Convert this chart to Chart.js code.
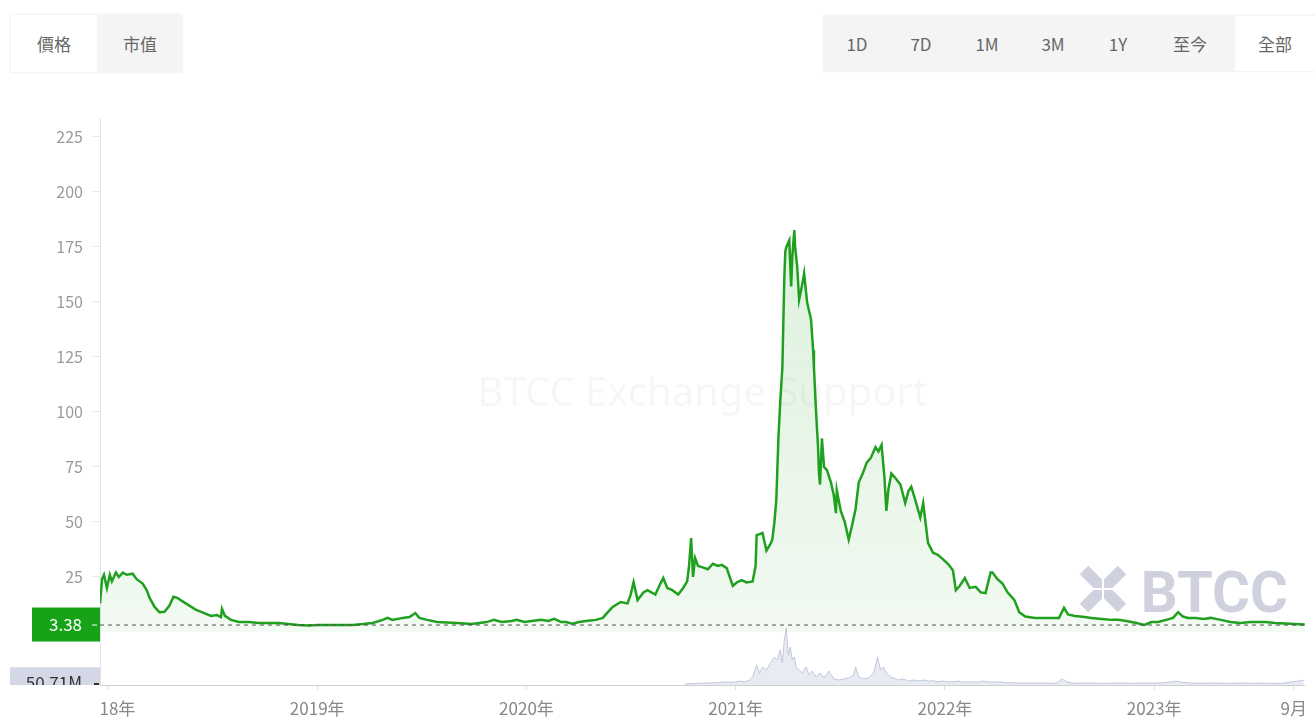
<!DOCTYPE html>
<html>
<head>
<meta charset="utf-8">
<script src="https://cdn.jsdelivr.net/npm/chart.js@4.4.0/dist/chart.umd.min.js"></script>
<style>
  html, body { margin: 0; padding: 0; background: #fff; }
  body { width: 1315px; height: 720px; overflow: hidden; position: relative;
         font-family: "Noto Sans CJK TC", "Noto Sans", sans-serif; color: #666; }
  .group { position: absolute; background: #f4f4f4; border-radius: 3px;
           box-shadow: 0 0 2px rgba(0,0,0,0.06); }
  .on { position: absolute; background: #fff; }
  .btn { position: absolute; width: 80px; text-align: center; font-size: 17px; }
  #wrap { position: absolute; left: 0; top: 90px; width: 1315px; height: 630px; }
</style>
</head>
<body>
<div class="group" style="left:10px;top:14px;width:173px;height:59px"></div>
<div class="on" style="left:11px;top:15px;width:86px;height:57px"></div>
<span class="btn" style="left:14px;top:31px">價格</span>
<span class="btn" style="left:100px;top:31px">市值</span>

<div class="group" style="left:823px;top:15px;width:520px;height:57px"></div>
<div class="on" style="left:1235px;top:16px;width:90px;height:55px"></div>
<span class="btn" style="left:817px;top:31px">1D</span>
<span class="btn" style="left:881px;top:31px">7D</span>
<span class="btn" style="left:947px;top:31px">1M</span>
<span class="btn" style="left:1013px;top:31px">3M</span>
<span class="btn" style="left:1078px;top:31px">1Y</span>
<span class="btn" style="left:1150px;top:31px">至今</span>
<span class="btn" style="left:1235px;top:31px">全部</span>

<div id="wrap"><canvas id="graph"></canvas></div>

<script>
// price line, x in fractional years
const priceDates = [
  2017.962, 2017.972, 2017.981, 2017.995, 2018.009, 2018.019, 2018.038, 2018.052, 2018.071, 2018.090,
  2018.118, 2018.137, 2018.166, 2018.185, 2018.199, 2018.223, 2018.246, 2018.270, 2018.294, 2018.313,
  2018.332, 2018.355, 2018.389, 2018.422, 2018.460, 2018.493, 2018.521, 2018.540, 2018.545, 2018.559,
  2018.588, 2018.626, 2018.673, 2018.720, 2018.768, 2018.815, 2018.863, 2018.910, 2018.957, 2019.005,
  2019.100, 2019.171, 2019.218, 2019.265, 2019.313, 2019.336, 2019.360, 2019.408, 2019.441, 2019.469,
  2019.488, 2019.526, 2019.573, 2019.668, 2019.739, 2019.810, 2019.844, 2019.882, 2019.929, 2019.953,
  2019.991, 2020.024, 2020.071, 2020.104, 2020.133, 2020.166, 2020.190, 2020.218, 2020.251, 2020.284,
  2020.332, 2020.365, 2020.389, 2020.412, 2020.450, 2020.483, 2020.498, 2020.512, 2020.531, 2020.559,
  2020.578, 2020.616, 2020.640, 2020.654, 2020.673, 2020.697, 2020.725, 2020.749, 2020.768, 2020.777,
  2020.787, 2020.796, 2020.806, 2020.820, 2020.839, 2020.867, 2020.891, 2020.915, 2020.934, 2020.957,
  2020.986, 2021.005, 2021.028, 2021.052, 2021.081, 2021.095, 2021.100, 2021.114, 2021.128, 2021.147,
  2021.166, 2021.175, 2021.185, 2021.194, 2021.204, 2021.213, 2021.223, 2021.232, 2021.237, 2021.242,
  2021.256, 2021.265, 2021.270, 2021.280, 2021.284, 2021.294, 2021.303, 2021.318, 2021.327, 2021.341,
  2021.360, 2021.370, 2021.374, 2021.384, 2021.393, 2021.398, 2021.403, 2021.412, 2021.422, 2021.436,
  2021.455, 2021.469, 2021.479, 2021.483, 2021.502, 2021.521, 2021.540, 2021.555, 2021.573, 2021.588,
  2021.607, 2021.626, 2021.645, 2021.668, 2021.682, 2021.697, 2021.711, 2021.720, 2021.730, 2021.744,
  2021.763, 2021.787, 2021.810, 2021.825, 2021.839, 2021.858, 2021.882, 2021.896, 2021.919, 2021.943,
  2021.967, 2021.991, 2022.014, 2022.038, 2022.052, 2022.071, 2022.095, 2022.118, 2022.147, 2022.171,
  2022.194, 2022.218, 2022.227, 2022.251, 2022.275, 2022.299, 2022.332, 2022.355, 2022.384, 2022.431,
  2022.488, 2022.545, 2022.569, 2022.588, 2022.621, 2022.668, 2022.701, 2022.749, 2022.796, 2022.829,
  2022.867, 2022.915, 2022.953, 2022.986, 2023.019, 2023.057, 2023.090, 2023.114, 2023.137, 2023.161,
  2023.199, 2023.237, 2023.270, 2023.318, 2023.365, 2023.412, 2023.460, 2023.493, 2023.531, 2023.578,
  2023.626, 2023.673, 2023.720
];
const priceValues = [
  13, 24, 26, 20, 26, 23, 27, 25, 27, 26,
  26.5, 24, 22, 19, 15.5, 11.4, 9, 9.2, 12, 16,
  15.5, 14, 12, 10, 8.6, 7.3, 7.7, 6.8, 10.5, 7.3,
  5.5, 4.5, 4.5, 4.1, 4.1, 4.1, 3.6, 3.2, 2.9, 3.2,
  3.2, 3.2, 3.6, 4.1, 5.5, 6.4, 5.5, 6.4, 6.8, 8.6,
  6.4, 5.5, 4.5, 4.1, 3.6, 4.5, 5.5, 4.5, 5.0, 5.5,
  4.5, 5.0, 5.5, 5.0, 6.0, 4.5, 4.5, 3.8, 4.5, 5.0,
  5.5, 6.4, 9, 11.4, 13.6, 13, 17, 22.7, 14.5, 18,
  19, 17, 22, 24.5, 20, 19, 17, 20, 23, 30,
  42.7, 25, 33.6, 30, 29.5, 28.5, 31, 30, 30.5, 29,
  21, 22.5, 23.6, 22.5, 23, 30, 44, 44.5, 45, 37,
  40, 42, 50, 60, 88, 105, 120, 160, 173, 175,
  178, 157, 170, 182.7, 175, 166, 151, 158, 163, 150,
  142, 128, 120, 100, 85, 72, 67, 88, 75, 73.6,
  68, 62, 54, 64.5, 55, 50, 42, 48, 56, 68,
  72, 77, 79, 84, 82, 85, 70, 55, 65, 72,
  70, 67, 58.6, 64, 66, 60, 52, 58.6, 40.5, 36,
  35, 33, 31, 28, 19, 21, 24.5, 20, 20.5, 18,
  17.7, 27, 27, 24, 22, 18, 14.5, 9, 7, 6.4,
  6.4, 6.4, 11, 8, 7.3, 6.8, 6.4, 5.9, 5.5, 5.5,
  5.0, 4.1, 3.2, 4.5, 4.5, 5.5, 6.4, 9, 7, 6.4,
  6.4, 5.9, 6.4, 5.5, 4.5, 4.1, 4.5, 4.5, 4.5, 4.1,
  3.8, 3.6, 3.38
];

// trading volume, millions
const volDates = [
  2020.758, 2020.806, 2020.853, 2020.900, 2020.948, 2020.995, 2021.019, 2021.043, 2021.066, 2021.081,
  2021.100, 2021.114, 2021.128, 2021.147, 2021.166, 2021.185, 2021.199, 2021.213, 2021.223, 2021.232,
  2021.242, 2021.251, 2021.261, 2021.270, 2021.280, 2021.289, 2021.303, 2021.318, 2021.336, 2021.351,
  2021.365, 2021.384, 2021.403, 2021.422, 2021.445, 2021.469, 2021.493, 2021.517, 2021.540, 2021.564,
  2021.573, 2021.588, 2021.611, 2021.635, 2021.659, 2021.678, 2021.692, 2021.706, 2021.720, 2021.739,
  2021.754, 2021.777, 2021.801, 2021.825, 2021.848, 2021.872, 2021.896, 2021.919, 2021.943, 2021.967,
  2021.991, 2022.014, 2022.038, 2022.062, 2022.085, 2022.109, 2022.133, 2022.156, 2022.180, 2022.204,
  2022.227, 2022.251, 2022.275, 2022.299, 2022.322, 2022.346, 2022.370, 2022.393, 2022.417, 2022.441,
  2022.464, 2022.488, 2022.512, 2022.536, 2022.559, 2022.583, 2022.607, 2022.630, 2022.654, 2022.678,
  2022.701, 2022.749, 2022.796, 2022.844, 2022.891, 2022.938, 2022.986, 2023.033, 2023.081, 2023.104,
  2023.128, 2023.175, 2023.223, 2023.270, 2023.318, 2023.365, 2023.412, 2023.460, 2023.507, 2023.555,
  2023.602, 2023.715
];
const volValues = [
  11, 16, 21, 24, 32, 30, 42, 32, 53, 85,
  212, 127, 190, 159, 233, 296, 265, 370, 233, 476,
  603, 318, 402, 265, 296, 190, 159, 127, 190, 106,
  148, 85, 127, 74, 148, 64, 53, 64, 74, 106,
  190, 85, 64, 74, 127, 296, 159, 190, 127, 85,
  74, 53, 64, 42, 53, 42, 53, 42, 45, 32,
  42, 32, 35, 42, 30, 34, 32, 29, 42, 32,
  31, 33, 30, 21, 24, 20, 22, 21, 19, 23,
  20, 21, 18, 22, 64, 32, 21, 19, 22, 20,
  21, 18, 20, 22, 19, 21, 20, 23, 32, 42,
  30, 21, 19, 22, 20, 18, 21, 19, 20, 18,
  16, 50.71
];

const xTickValues = [2018, 2019, 2020, 2021, 2022, 2023, 2023.667];
const xTickLabels = ["2018年", "2019年", "2020年", "2021年", "2022年", "2023年", "9月"];
const yTickValues = [25, 50, 75, 100, 125, 150, 175, 200, 225];

Chart.defaults.font.family = '"Noto Sans CJK TC", "Noto Sans", sans-serif';

// watermark, logo, last-value tags
const markPlugin = {
  id: "marks",
  beforeDatasetsDraw(chart) {
    const { ctx, chartArea: a } = chart;
    ctx.save();
    ctx.fillStyle = "rgba(0,0,0,0.035)";
    ctx.font = '40px "Noto Sans", sans-serif';
    ctx.textAlign = "center";
    ctx.textBaseline = "middle";
    ctx.fillText("BTCC Exchange Support", (a.left + a.right) / 2, 305);

    // BTCC logo bottom right
    ctx.fillStyle = "#cfd2de";
    ctx.strokeStyle = "#cfd2de";
    ctx.font = 'bold 58px Roboto, "Noto Sans", sans-serif';
    ctx.textAlign = "right";
    ctx.textBaseline = "alphabetic";
    ctx.fillText("BTCC", 1288, 522);
    const cx = 1103, cy = 499, r = 19;
    ctx.lineWidth = 12;
    ctx.lineCap = "butt";
    ctx.beginPath();
    ctx.moveTo(cx - r, cy - r); ctx.lineTo(cx + r, cy + r);
    ctx.moveTo(cx + r, cy - r); ctx.lineTo(cx - r, cy + r);
    ctx.stroke();
    ctx.strokeStyle = "#fff";
    ctx.lineWidth = 2;
    ctx.beginPath();
    ctx.moveTo(cx - r - 2, cy); ctx.lineTo(cx + r + 2, cy);
    ctx.moveTo(cx, cy - r - 2); ctx.lineTo(cx, cy + r + 2);
    ctx.stroke();
    ctx.restore();
  },
  afterDraw(chart) {
    const { ctx, chartArea: a } = chart;
    const y = chart.scales.y, yv = chart.scales.yv;
    const lastPrice = priceValues[priceValues.length - 1];
    const lastVol = volValues[volValues.length - 1];
    ctx.save();

    // first year label is cut at the axis
    ctx.fillStyle = "#fff";
    ctx.fillRect(0, a.bottom + 8, a.left, chart.height - a.bottom);

    // current price line + tag
    const py = y.getPixelForValue(lastPrice);
    ctx.strokeStyle = "#4d4d4d";
    ctx.lineWidth = 1;
    ctx.setLineDash([4, 4]);
    ctx.beginPath();
    ctx.moveTo(a.left, py + 0.5);
    ctx.lineTo(a.right, py + 0.5);
    ctx.stroke();
    ctx.setLineDash([]);
    ctx.fillStyle = "#17a317";
    ctx.fillRect(32, py - 17, a.left - 32, 34);
    ctx.fillStyle = "#fff";
    ctx.font = '17px "Noto Sans CJK TC", sans-serif';
    ctx.textAlign = "right";
    ctx.textBaseline = "middle";
    ctx.fillText(lastPrice.toFixed(2), 82, py);
    ctx.fillRect(92, py, 5, 1);

    // current volume tag, clipped by the x axis
    const vy = yv.getPixelForValue(lastVol);
    ctx.beginPath();
    ctx.rect(0, 0, a.left, a.bottom);
    ctx.clip();
    ctx.fillStyle = "#d4d8e6";
    ctx.fillRect(10, vy - 13, a.left - 10, 30);
    ctx.fillStyle = "#333";
    ctx.fillText(lastVol.toFixed(2) + "M", 82, vy + 2);
    ctx.fillRect(94, a.bottom - 2, 5, 2);
    ctx.restore();
  }
};

const ctx = document.getElementById("graph");
new Chart(ctx, {
  type: "line",
  data: {
    datasets: [
      {
        label: "價格",
        data: priceDates.map((d, i) => ({ x: d, y: priceValues[i] })),
        yAxisID: "y",
        borderColor: "#1fa01f",
        borderWidth: 2.5,
        pointRadius: 0,
        tension: 0,
        fill: "origin",
        backgroundColor: (c) => {
          const area = c.chart.chartArea;
          if (!area) return "rgba(40,170,40,0.1)";
          const g = c.chart.ctx.createLinearGradient(0, area.top, 0, area.bottom);
          g.addColorStop(0, "rgba(40,165,40,0.18)");
          g.addColorStop(0.85, "rgba(40,165,40,0.07)");
          g.addColorStop(1, "rgba(40,165,40,0.02)");
          return g;
        },
        order: 0
      },
      {
        label: "成交量",
        data: volDates.map((d, i) => ({ x: d, y: volValues[i] })),
        yAxisID: "yv",
        borderColor: "rgba(185,191,214,0.85)",
        borderWidth: 1,
        backgroundColor: "rgba(200,205,225,0.4)",
        pointRadius: 0,
        tension: 0,
        fill: "origin",
        order: 1
      }
    ]
  },
  options: {
    animation: false,
    responsive: true,
    maintainAspectRatio: false,
    layout: { padding: { top: 28, right: 0, left: 0, bottom: 0 }, autoPadding: false },
    plugins: { legend: { display: false }, tooltip: { enabled: false } },
    scales: {
      x: {
        type: "linear",
        min: priceDates[0],
        max: priceDates[priceDates.length - 1],
        afterFit: (s) => { s.height = 35; },
        afterBuildTicks: (s) => { s.ticks = xTickValues.map((v) => ({ value: v })); },
        ticks: {
          callback: (v, i) => xTickLabels[i],
          color: "#888",
          font: { size: 17 },
          padding: 8,
          maxRotation: 0,
          autoSkip: false
        },
        grid: { drawOnChartArea: false, tickLength: 5, color: "#ddd" },
        border: { color: "#d0d0d0" }
      },
      y: {
        position: "left",
        min: -24.1,
        max: 233.6,
        afterFit: (s) => { s.width = 100; },
        afterBuildTicks: (s) => { s.ticks = yTickValues.map((v) => ({ value: v })); },
        ticks: { color: "#9a9a9a", font: { size: 16 }, padding: 10 },
        grid: { drawOnChartArea: false, tickLength: 7, color: "#e6e6e6" },
        border: { color: "#e3e3e3" }
      },
      yv: { display: false, min: 0, max: 6000 }
    }
  },
  plugins: [markPlugin]
});
</script>
</body>
</html>
